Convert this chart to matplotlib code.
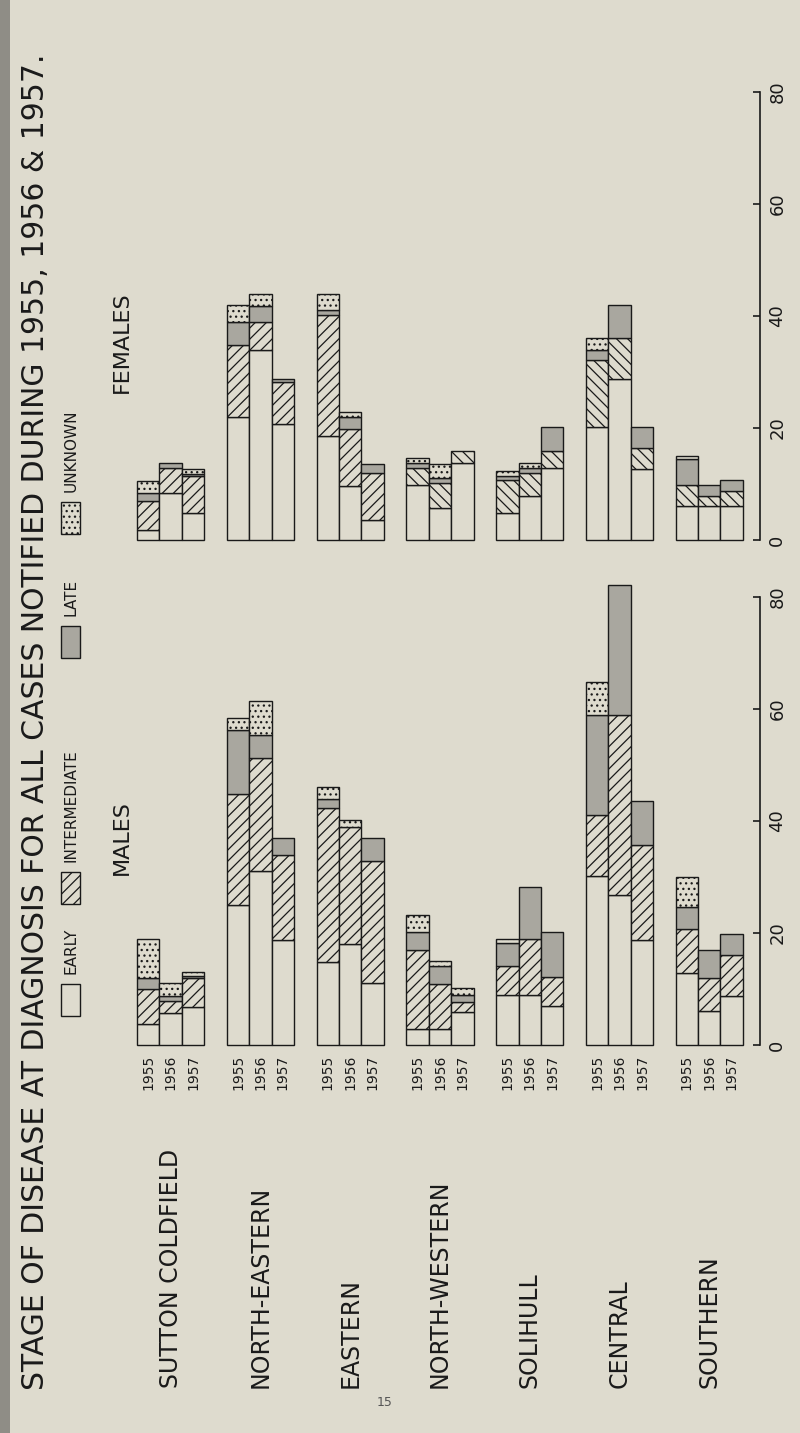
import numpy as np
import matplotlib.pyplot as plt
from matplotlib.patches import Rectangle

# districts and years
districts = ["SUTTON COLDFIELD", "NORTH-EASTERN", "EASTERN", "NORTH-WESTERN",
             "SOLIHULL", "CENTRAL", "SOUTHERN"]
years = ["1955", "1956", "1957"]
stages = ["EARLY", "INTERMEDIATE", "LATE", "UNKNOWN"]

# cases per stage, rows = district, cols = year (1955, 1956, 1957)
male_early = [[3.8, 5.8, 6.8], [25.0, 31.0, 18.7], [14.8, 18.1, 11.1], [2.8, 2.8, 5.9],
              [8.9, 8.9, 6.9], [30.2, 26.8, 18.8], [12.8, 6.1, 8.8]]
male_inter = [[6.2, 2.1, 5.2], [19.9, 20.2, 15.3], [27.5, 20.8, 21.7], [14.1, 8.1, 1.8],
              [5.2, 10.1, 5.3], [10.8, 32.1, 17.0], [7.9, 5.9, 7.2]]
male_late = [[1.9, 0.8, 0.3], [11.4, 4.2, 3.0], [1.7, 0.0, 4.2], [3.2, 3.2, 1.3],
             [4.2, 9.3, 8.0], [17.9, 23.2, 7.8], [4.0, 4.9, 3.9]]
male_unknown = [[7.1, 2.3, 0.8], [2.1, 6.1, 0.0], [2.1, 1.2, 0.0], [3.1, 0.9, 1.2],
                [0.7, 0.0, 0.0], [5.9, 0.0, 0.0], [5.3, 0.0, 0.0]]

female_early = [[1.8, 8.4, 4.8], [21.9, 33.9, 20.7], [18.6, 9.6, 3.6], [9.9, 5.7, 13.8],
                [4.8, 7.8, 12.9], [20.1, 28.8, 12.6], [6.0, 6.0, 6.0]]
female_inter = [[5.1, 4.5, 6.6], [12.9, 5.1, 7.5], [21.5, 10.2, 8.4], [3.0, 4.5, 2.1],
                [6.0, 4.2, 3.0], [12.0, 7.2, 3.9], [3.9, 1.8, 2.7]]
female_late = [[1.5, 0.9, 0.3], [4.2, 2.7, 0.6], [0.9, 2.1, 1.5], [0.9, 0.8, 0.0],
               [0.6, 0.9, 4.2], [1.8, 5.9, 3.6], [4.5, 2.1, 2.1]]
female_unknown = [[2.1, 0.0, 0.9], [2.9, 2.3, 0.0], [3.0, 0.9, 0.0], [0.9, 2.5, 0.0],
                  [0.9, 0.9, 0.0], [2.1, 0.0, 0.0], [0.6, 0.0, 0.0]]

paper = "#dedbce"
grey = "#a9a79f"
ink = "#1a1a1a"

plt.rcParams['font.family'] = ['DejaVu Sans']
plt.rcParams['hatch.linewidth'] = 0.9
plt.rcParams['hatch.color'] = ink

W, H = 800, 1433
fig = plt.figure(figsize=(W / 100, H / 100), dpi=100, facecolor=paper)


def fx(px):
    return px / W


def fy(py):
    return 1 - py / H


def panel(top_px, base_px, early, inter, late, unknown, back_hatch):
    ax = fig.add_axes([fx(130), fy(base_px), fx(630), (base_px - top_px) / H])
    ax.set_facecolor("none")
    ax.set_xlim(-1.81, 26.26)
    ax.set_ylim(0, 80)
    for i in range(len(districts)):
        h_int = '\\\\\\' if back_hatch[i] else '///'
        for j in range(3):
            x = i * 4 + j - 1.5
            parts = [(early[i][j], paper, None),
                     (inter[i][j], paper, h_int),
                     (late[i][j], grey, None),
                     (unknown[i][j], paper, '...')]
            bottom = 0
            for val, fc, hatch in parts:
                if val <= 0:
                    continue
                ax.bar(x, val, width=1, bottom=bottom, align='edge', color=fc,
                       edgecolor=ink, linewidth=1.0, hatch=hatch, clip_on=False)
                bottom += val
    for s in ["top", "left", "bottom"]:
        ax.spines[s].set_visible(False)
    ax.spines["right"].set_color(ink)
    ax.spines["right"].set_linewidth(1.2)
    ax.spines["right"].set_bounds(0, 80)
    ax.yaxis.tick_right()
    ax.set_yticks([0, 20, 40, 60, 80])
    ax.set_yticklabels(["0", "20", "40", "60", "80"], rotation=90, va="center",
                       fontsize=13, color=ink)
    ax.tick_params(axis="y", direction="in", length=5, width=1.2, pad=6, colors=ink)
    ax.set_xticks([])
    return ax


female_ax = panel(92, 540, female_early, female_inter, female_late, female_unknown,
                  [False, False, False, True, True, True, True])
male_ax = panel(597, 1045, male_early, male_inter, male_late, male_unknown,
                [False] * 7)

# year labels under the male bars, district names below them
for i in range(len(districts)):
    for j, yr in enumerate(years):
        xd = i * 4 + j - 1.0
        xp = male_ax.transData.transform((xd, 0))[0] / fig.dpi / (W / 100)
        fig.text(xp, fy(1072), yr, rotation=90, ha="center", va="center",
                 fontsize=10, color=ink)
    xc = female_ax.transData.transform((i * 4, 0))[0] / fig.dpi / (W / 100)
    fig.text(xc, fy(1388), districts[i], rotation=90, rotation_mode="anchor",
             ha="left", va="center", fontsize=17, color=ink)

fig.text(fx(36), fy(1390), "STAGE OF DISEASE AT DIAGNOSIS FOR ALL CASES NOTIFIED DURING "
         "1955, 1956 & 1957.", rotation=90, rotation_mode="anchor", ha="left",
         va="center", fontsize=21.5, color=ink)

fig.text(fx(122), fy(342), "FEMALES", rotation=90, ha="center", va="center",
         fontsize=16, color=ink)
fig.text(fx(122), fy(838), "MALES", rotation=90, ha="center", va="center",
         fontsize=16, color=ink)

# legend column
leg_y = [1000, 888, 642, 518]
leg_fc = [paper, paper, grey, paper]
leg_hatch = [None, '///', None, '...']
for k, lab in enumerate(stages):
    yb = leg_y[k]
    fig.patches.append(Rectangle((fx(61), fy(yb + 16)), 19 / W, 32 / H,
                                 transform=fig.transFigure, facecolor=leg_fc[k],
                                 edgecolor=ink, linewidth=1.0, hatch=leg_hatch[k]))
    fig.text(fx(71), fy(yb - 26), lab, rotation=90, rotation_mode="anchor",
             ha="left", va="center", fontsize=11, color=ink)

# page number and binding shadow
fig.text(fx(385), fy(1402), "15", ha="center", va="center", fontsize=9, color="#555555")
fig.patches.append(Rectangle((0, 0), 10 / W, 1, transform=fig.transFigure,
                             facecolor="#8f8d86", edgecolor="none"))

fig.savefig("out.png", dpi=100, facecolor=paper)
